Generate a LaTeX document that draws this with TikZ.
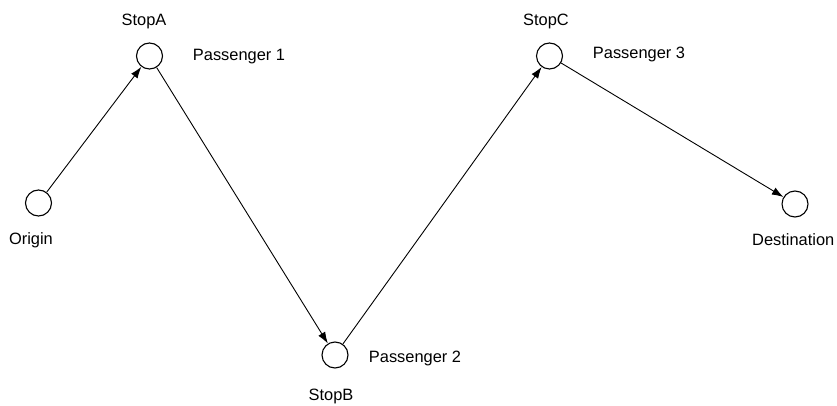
\documentclass[tikz,border=0pt]{standalone}
\usepackage{fontspec}
\setmainfont{Liberation Sans}
\usetikzlibrary{arrows.meta}
\begin{document}
\begin{tikzpicture}[x=1pt,y=-1pt,
  stop/.style={circle,draw,line width=1.1pt,minimum size=26pt,inner sep=0pt},
  lbl/.style={font=\fontsize{16.4}{18}\selectfont,inner sep=0pt},
  route/.style={line width=0.9pt,-{Latex[length=11.5pt,width=8pt]}}]
  \useasboundingbox (0,0) rectangle (837,406);
  % stops
  \node[stop] (origin) at (38.5,203) {};
  \node[stop] (a) at (149.5,56) {};
  \node[stop] (b) at (335,355) {};
  \node[stop] (c) at (549.5,56) {};
  \node[stop] (dest) at (795,204) {};
  % labels
  \node[lbl] (lorigin) at (31,240) {Origin};
  \node[lbl] (la) at (144,21) {StopA};
  \node[lbl] (lp1) at (239,57) {Passenger 1};
  \node[lbl] (lb) at (331,396) {StopB};
  \node[lbl] (lp2) at (415,358) {Passenger 2};
  \node[lbl] (lc) at (546,21) {StopC};
  \node[lbl] (lp3) at (639,54) {Passenger 3};
  \node[lbl,anchor=west] (ldest) at (752,240) {Destination};
  % route
  \draw[route] (origin) -- (a);
  \draw[route] (a) -- (b);
  \draw[route] (b) -- (c);
  \draw[route] (c) -- (dest);
\end{tikzpicture}
\end{document}
